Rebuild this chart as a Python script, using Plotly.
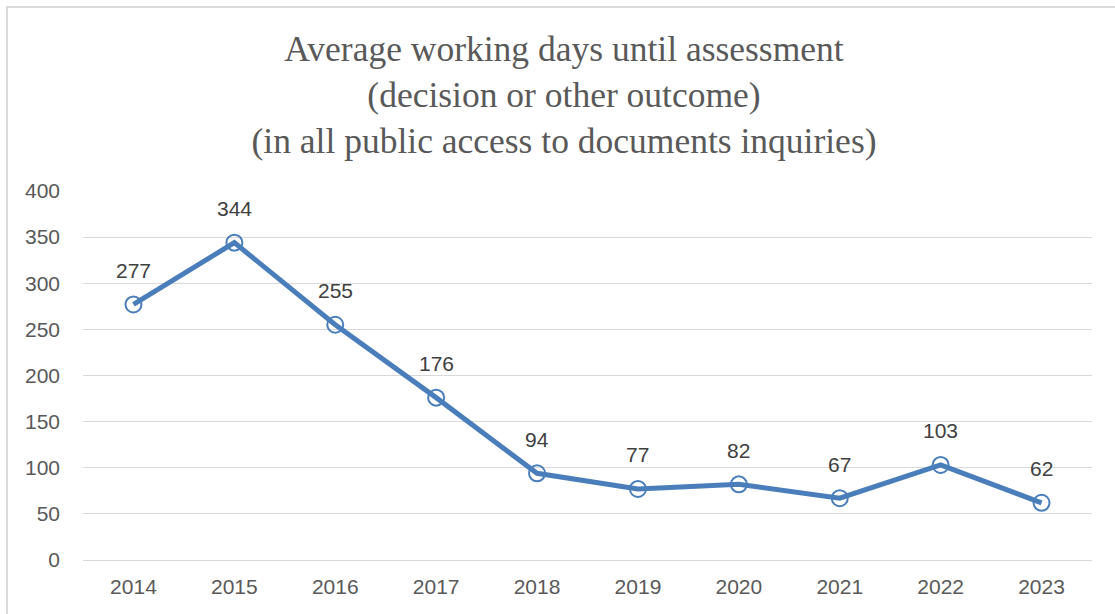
import plotly.graph_objects as go

years = ["2014", "2015", "2016", "2017", "2018", "2019", "2020", "2021", "2022", "2023"]
avg_days = [277, 344, 255, 176, 94, 77, 82, 67, 103, 62]
y_ticks = [0, 50, 100, 150, 200, 250, 300, 350, 400]

W, H = 1115, 614
L, R, T, B = 83, 23, 191, 54
plot_w = W - L - R
plot_h = H - T - B

line_color = "#4A7EBB"
grid_color = "#D9D9D9"
sans = "Liberation Sans, Arial, sans-serif"

fig = go.Figure()
fig.add_trace(go.Scatter(
    x=years, y=avg_days, mode="lines+markers",
    line=dict(color=line_color, width=5),
    marker=dict(symbol="circle-open", size=16, color=line_color,
                line=dict(color=line_color, width=2)),
    showlegend=False, hoverinfo="x+y",
))

# value labels above each point (positioned by category index)
for i, v in enumerate(avg_days):
    fig.add_annotation(x=i, y=v, xref="x", yref="y", text=str(v), showarrow=False,
                       yshift=34, font=dict(family=sans, size=21, color="#404040"))

# outer chart frame
fig.add_shape(type="rect", xref="paper", yref="paper",
              x0=(7 - L) / plot_w, x1=(W + 20 - L) / plot_w,
              y0=(H + 20 - T) / -plot_h + 1, y1=1 + (T - 7) / plot_h,
              line=dict(color=grid_color, width=2), layer="below")

fig.update_layout(
    width=W, height=H,
    margin=dict(l=L, r=R, t=T, b=B),
    paper_bgcolor="white", plot_bgcolor="white",
    title=dict(
        text="Average working days until assessment<br>(decision or other outcome)<br>(in all public access to documents inquiries)",
        x=564 / W, xanchor="center", xref="container",
        y=1 - 61 / H, yanchor="top", yref="container",
        font=dict(family="Liberation Serif, Times New Roman, serif", size=35.5, color="#595959"),
    ),
    xaxis=dict(
        type="category", range=[-0.5, len(years) - 0.5],
        showgrid=False, showline=False, zeroline=False,
        ticks="", ticklabelstandoff=12,
        tickfont=dict(family=sans, size=21, color="#595959"),
    ),
    yaxis=dict(
        range=[0, 400], tickvals=y_ticks,
        showgrid=True, gridcolor=grid_color, gridwidth=1,
        zeroline=True, zerolinecolor=grid_color, zerolinewidth=1,
        showline=False, ticks="", ticklabelstandoff=22,
        tickfont=dict(family=sans, size=21, color="#595959"),
    ),
)

fig.write_html("out.html")
